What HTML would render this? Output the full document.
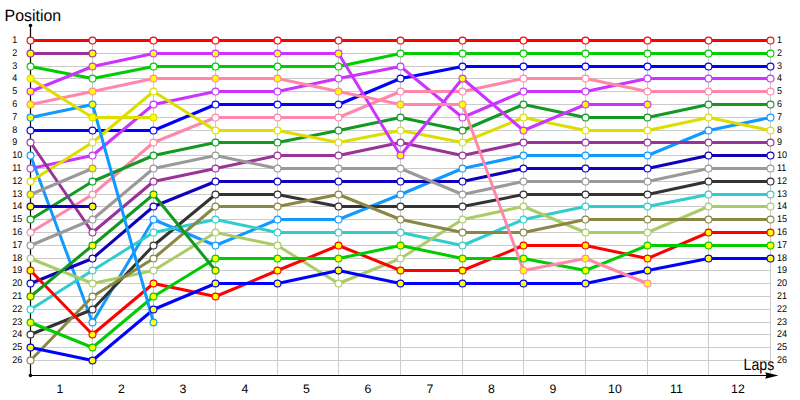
<!DOCTYPE html>
<html><head><meta charset="utf-8"><title>Lap chart</title>
<style>
html,body{margin:0;padding:0;background:#fff;}
body{width:800px;height:400px;overflow:hidden;}
svg{display:block;}
text{font-family:"Liberation Sans",sans-serif;fill:#000;text-rendering:geometricPrecision;}
</style></head><body>
<svg width="800" height="400" viewBox="0 0 800 400">
<rect width="800" height="400" fill="#fff"/>
<g stroke="#cbcbcb" stroke-width="1" shape-rendering="crispEdges">
<line x1="30.5" y1="40.5" x2="770.5" y2="40.5"/>
<line x1="30.5" y1="53.5" x2="770.5" y2="53.5"/>
<line x1="30.5" y1="66.5" x2="770.5" y2="66.5"/>
<line x1="30.5" y1="78.5" x2="770.5" y2="78.5"/>
<line x1="30.5" y1="91.5" x2="770.5" y2="91.5"/>
<line x1="30.5" y1="104.5" x2="770.5" y2="104.5"/>
<line x1="30.5" y1="117.5" x2="770.5" y2="117.5"/>
<line x1="30.5" y1="130.5" x2="770.5" y2="130.5"/>
<line x1="30.5" y1="142.5" x2="770.5" y2="142.5"/>
<line x1="30.5" y1="155.5" x2="770.5" y2="155.5"/>
<line x1="30.5" y1="168.5" x2="770.5" y2="168.5"/>
<line x1="30.5" y1="181.5" x2="770.5" y2="181.5"/>
<line x1="30.5" y1="194.5" x2="770.5" y2="194.5"/>
<line x1="30.5" y1="206.5" x2="770.5" y2="206.5"/>
<line x1="30.5" y1="219.5" x2="770.5" y2="219.5"/>
<line x1="30.5" y1="232.5" x2="770.5" y2="232.5"/>
<line x1="30.5" y1="245.5" x2="770.5" y2="245.5"/>
<line x1="30.5" y1="258.5" x2="770.5" y2="258.5"/>
<line x1="30.5" y1="270.5" x2="770.5" y2="270.5"/>
<line x1="30.5" y1="283.5" x2="770.5" y2="283.5"/>
<line x1="30.5" y1="296.5" x2="770.5" y2="296.5"/>
<line x1="30.5" y1="309.5" x2="770.5" y2="309.5"/>
<line x1="30.5" y1="322.5" x2="770.5" y2="322.5"/>
<line x1="30.5" y1="334.5" x2="770.5" y2="334.5"/>
<line x1="30.5" y1="347.5" x2="770.5" y2="347.5"/>
<line x1="30.5" y1="360.5" x2="770.5" y2="360.5"/>
<line x1="92.5" y1="40.5" x2="92.5" y2="375.5"/>
<line x1="153.5" y1="40.5" x2="153.5" y2="375.5"/>
<line x1="215.5" y1="40.5" x2="215.5" y2="375.5"/>
<line x1="277.5" y1="40.5" x2="277.5" y2="375.5"/>
<line x1="338.5" y1="40.5" x2="338.5" y2="375.5"/>
<line x1="400.5" y1="40.5" x2="400.5" y2="375.5"/>
<line x1="462.5" y1="40.5" x2="462.5" y2="375.5"/>
<line x1="523.5" y1="40.5" x2="523.5" y2="375.5"/>
<line x1="585.5" y1="40.5" x2="585.5" y2="375.5"/>
<line x1="647.5" y1="40.5" x2="647.5" y2="375.5"/>
<line x1="708.5" y1="40.5" x2="708.5" y2="375.5"/>
<line x1="770.5" y1="40.5" x2="770.5" y2="375.5"/>
</g>
<g stroke="#000" stroke-width="1.2" fill="none">
<line x1="30.5" y1="25.5" x2="30.5" y2="375.5"/>
<line x1="30.5" y1="375.5" x2="770" y2="375.5"/>
</g>
<circle cx="30.5" cy="25.5" r="1.8" fill="#000"/>
<circle cx="30.5" cy="375.5" r="1.8" fill="#000"/>
<path d="M778.4 375.5 L765.2 372.3 L766.4 375.5 L765.2 378.7 Z" fill="#000"/>
<text x="4.6" y="20.6" font-size="16.3" textLength="56.5" lengthAdjust="spacingAndGlyphs">Position</text>
<text x="743.6" y="370" font-size="16.3" textLength="30.6" lengthAdjust="spacingAndGlyphs">Laps</text>
<g font-size="9">
<text transform="translate(12.2,43.0) scale(1,1.08)">1</text><text transform="translate(776.9,43.0) scale(1,1.08)">1</text>
<text transform="translate(12.2,56.0) scale(1,1.08)">2</text><text transform="translate(776.9,56.0) scale(1,1.08)">2</text>
<text transform="translate(12.2,69.0) scale(1,1.08)">3</text><text transform="translate(776.9,69.0) scale(1,1.08)">3</text>
<text transform="translate(12.2,81.0) scale(1,1.08)">4</text><text transform="translate(776.9,81.0) scale(1,1.08)">4</text>
<text transform="translate(12.2,94.0) scale(1,1.08)">5</text><text transform="translate(776.9,94.0) scale(1,1.08)">5</text>
<text transform="translate(12.2,107.0) scale(1,1.08)">6</text><text transform="translate(776.9,107.0) scale(1,1.08)">6</text>
<text transform="translate(12.2,120.0) scale(1,1.08)">7</text><text transform="translate(776.9,120.0) scale(1,1.08)">7</text>
<text transform="translate(12.2,133.0) scale(1,1.08)">8</text><text transform="translate(776.9,133.0) scale(1,1.08)">8</text>
<text transform="translate(12.2,145.0) scale(1,1.08)">9</text><text transform="translate(776.9,145.0) scale(1,1.08)">9</text>
<text transform="translate(12.2,158.0) scale(1,1.08)">10</text><text transform="translate(776.9,158.0) scale(1,1.08)">10</text>
<text transform="translate(12.2,171.0) scale(1,1.08)">11</text><text transform="translate(776.9,171.0) scale(1,1.08)">11</text>
<text transform="translate(12.2,184.0) scale(1,1.08)">12</text><text transform="translate(776.9,184.0) scale(1,1.08)">12</text>
<text transform="translate(12.2,197.0) scale(1,1.08)">13</text><text transform="translate(776.9,197.0) scale(1,1.08)">13</text>
<text transform="translate(12.2,209.0) scale(1,1.08)">14</text><text transform="translate(776.9,209.0) scale(1,1.08)">14</text>
<text transform="translate(12.2,222.0) scale(1,1.08)">15</text><text transform="translate(776.9,222.0) scale(1,1.08)">15</text>
<text transform="translate(12.2,235.0) scale(1,1.08)">16</text><text transform="translate(776.9,235.0) scale(1,1.08)">16</text>
<text transform="translate(12.2,248.0) scale(1,1.08)">17</text><text transform="translate(776.9,248.0) scale(1,1.08)">17</text>
<text transform="translate(12.2,261.0) scale(1,1.08)">18</text><text transform="translate(776.9,261.0) scale(1,1.08)">18</text>
<text transform="translate(12.2,273.0) scale(1,1.08)">19</text><text transform="translate(776.9,273.0) scale(1,1.08)">19</text>
<text transform="translate(12.2,286.0) scale(1,1.08)">20</text><text transform="translate(776.9,286.0) scale(1,1.08)">20</text>
<text transform="translate(12.2,299.0) scale(1,1.08)">21</text><text transform="translate(776.9,299.0) scale(1,1.08)">21</text>
<text transform="translate(12.2,312.0) scale(1,1.08)">22</text><text transform="translate(776.9,312.0) scale(1,1.08)">22</text>
<text transform="translate(12.2,325.0) scale(1,1.08)">23</text><text transform="translate(776.9,325.0) scale(1,1.08)">23</text>
<text transform="translate(12.2,337.0) scale(1,1.08)">24</text><text transform="translate(776.9,337.0) scale(1,1.08)">24</text>
<text transform="translate(12.2,350.0) scale(1,1.08)">25</text><text transform="translate(776.9,350.0) scale(1,1.08)">25</text>
<text transform="translate(12.2,363.0) scale(1,1.08)">26</text><text transform="translate(776.9,363.0) scale(1,1.08)">26</text>
</g>
<g font-size="12.3" text-anchor="middle">
<text x="59.9" y="393">1</text>
<text x="121.4" y="393">2</text>
<text x="182.9" y="393">3</text>
<text x="244.9" y="393">4</text>
<text x="306.4" y="393">5</text>
<text x="367.9" y="393">6</text>
<text x="429.9" y="393">7</text>
<text x="491.4" y="393">8</text>
<text x="552.9" y="393">9</text>
<text x="614.9" y="393">10</text>
<text x="676.4" y="393">11</text>
<text x="737.9" y="393">12</text>
</g>
<g fill="none" stroke-width="3" stroke-linejoin="round" stroke-linecap="round">
<polyline stroke="#ff0000" points="30.5,40.5 92.5,40.5 153.5,40.5 215.5,40.5 277.5,40.5 338.5,40.5 400.5,40.5 462.5,40.5 523.5,40.5 585.5,40.5 647.5,40.5 708.5,40.5 770.5,40.5"/>
<polyline stroke="#00cc00" points="30.5,66.5 92.5,78.5 153.5,66.5 215.5,66.5 277.5,66.5 338.5,66.5 400.5,53.5 462.5,53.5 523.5,53.5 585.5,53.5 647.5,53.5 708.5,53.5 770.5,53.5"/>
<polyline stroke="#0000ff" points="30.5,130.5 92.5,130.5 153.5,130.5 215.5,104.5 277.5,104.5 338.5,104.5 400.5,78.5 462.5,66.5 523.5,66.5 585.5,66.5 647.5,66.5 708.5,66.5 770.5,66.5"/>
<polyline stroke="#cc33ff" points="30.5,168.5 92.5,155.5 153.5,104.5 215.5,91.5 277.5,91.5 338.5,78.5 400.5,66.5 462.5,117.5 523.5,91.5 585.5,91.5 647.5,78.5 708.5,78.5 770.5,78.5"/>
<polyline stroke="#ff88aa" points="30.5,232.5 92.5,194.5 153.5,142.5 215.5,117.5 277.5,117.5 338.5,117.5 400.5,91.5 462.5,91.5 523.5,78.5 585.5,78.5 647.5,91.5 708.5,91.5 770.5,91.5"/>
<polyline stroke="#119922" points="30.5,219.5 92.5,181.5 153.5,155.5 215.5,142.5 277.5,142.5 338.5,130.5 400.5,117.5 462.5,130.5 523.5,104.5 585.5,117.5 647.5,117.5 708.5,104.5 770.5,104.5"/>
<polyline stroke="#1199ff" points="30.5,155.5 92.5,322.5 153.5,219.5 215.5,245.5 277.5,219.5 338.5,219.5 400.5,194.5 462.5,168.5 523.5,155.5 585.5,155.5 647.5,155.5 708.5,130.5 770.5,117.5"/>
<polyline stroke="#dddd00" points="30.5,181.5 92.5,142.5 153.5,91.5 215.5,130.5 277.5,130.5 338.5,142.5 400.5,130.5 462.5,142.5 523.5,117.5 585.5,130.5 647.5,130.5 708.5,117.5 770.5,130.5"/>
<polyline stroke="#993399" points="30.5,142.5 92.5,232.5 153.5,181.5 215.5,168.5 277.5,155.5 338.5,155.5 400.5,142.5 462.5,155.5 523.5,142.5 585.5,142.5 647.5,142.5 708.5,142.5 770.5,142.5"/>
<polyline stroke="#1100bb" points="30.5,283.5 92.5,258.5 153.5,206.5 215.5,181.5 277.5,181.5 338.5,181.5 400.5,181.5 462.5,181.5 523.5,168.5 585.5,168.5 647.5,168.5 708.5,155.5 770.5,155.5"/>
<polyline stroke="#999999" points="30.5,245.5 92.5,219.5 153.5,168.5 215.5,155.5 277.5,168.5 338.5,168.5 400.5,168.5 462.5,194.5 523.5,181.5 585.5,181.5 647.5,181.5 708.5,168.5 770.5,168.5"/>
<polyline stroke="#333333" points="30.5,334.5 92.5,309.5 153.5,245.5 215.5,194.5 277.5,194.5 338.5,206.5 400.5,206.5 462.5,206.5 523.5,194.5 585.5,194.5 647.5,194.5 708.5,181.5 770.5,181.5"/>
<polyline stroke="#33cccc" points="30.5,309.5 92.5,270.5 153.5,232.5 215.5,219.5 277.5,232.5 338.5,232.5 400.5,232.5 462.5,245.5 523.5,219.5 585.5,206.5 647.5,206.5 708.5,194.5 770.5,194.5"/>
<polyline stroke="#aacc66" points="30.5,258.5 92.5,283.5 153.5,270.5 215.5,232.5 277.5,245.5 338.5,283.5 400.5,258.5 462.5,219.5 523.5,206.5 585.5,232.5 647.5,232.5 708.5,206.5 770.5,206.5"/>
<polyline stroke="#888844" points="30.5,360.5 92.5,296.5 153.5,258.5 215.5,206.5 277.5,206.5 338.5,194.5 400.5,219.5 462.5,232.5 523.5,232.5 585.5,219.5 647.5,219.5 708.5,219.5 770.5,219.5"/>
<polyline stroke="#ff0000" points="30.5,270.5 92.5,334.5 153.5,283.5 215.5,296.5 277.5,270.5 338.5,245.5 400.5,270.5 462.5,270.5 523.5,245.5 585.5,245.5 647.5,258.5 708.5,232.5 770.5,232.5"/>
<polyline stroke="#00cc00" points="30.5,322.5 92.5,347.5 153.5,296.5 215.5,258.5 277.5,258.5 338.5,258.5 400.5,245.5 462.5,258.5 523.5,258.5 585.5,270.5 647.5,245.5 708.5,245.5 770.5,245.5"/>
<polyline stroke="#0000ff" points="30.5,347.5 92.5,360.5 153.5,309.5 215.5,283.5 277.5,283.5 338.5,270.5 400.5,283.5 462.5,283.5 523.5,283.5 585.5,283.5 647.5,270.5 708.5,258.5 770.5,258.5"/>
<polyline stroke="#cc33ff" points="30.5,91.5 92.5,66.5 153.5,53.5 215.5,53.5 277.5,53.5 338.5,53.5 400.5,155.5 462.5,78.5 523.5,130.5 585.5,104.5 647.5,104.5"/>
<polyline stroke="#ff88aa" points="30.5,104.5 92.5,91.5 153.5,78.5 215.5,78.5 277.5,78.5 338.5,91.5 400.5,104.5 462.5,104.5 523.5,270.5 585.5,258.5 647.5,283.5"/>
<polyline stroke="#119922" points="30.5,296.5 92.5,245.5 153.5,194.5 215.5,270.5"/>
<polyline stroke="#1199ff" points="30.5,117.5 92.5,104.5 153.5,322.5"/>
<polyline stroke="#dddd00" points="30.5,78.5 92.5,117.5 153.5,117.5"/>
<polyline stroke="#993399" points="30.5,53.5 92.5,53.5"/>
<polyline stroke="#1100bb" points="30.5,206.5 92.5,206.5"/>
<polyline stroke="#999999" points="30.5,194.5 92.5,168.5"/>
</g>
<g stroke-width="1.15">
<g stroke="#ff0000" fill="#ffffff"><circle cx="30.5" cy="40.5" r="3.45"/><circle cx="92.5" cy="40.5" r="3.45"/><circle cx="153.5" cy="40.5" r="3.45"/><circle cx="215.5" cy="40.5" r="3.45"/><circle cx="277.5" cy="40.5" r="3.45"/><circle cx="338.5" cy="40.5" r="3.45"/><circle cx="400.5" cy="40.5" r="3.45"/><circle cx="462.5" cy="40.5" r="3.45"/><circle cx="523.5" cy="40.5" r="3.45"/><circle cx="585.5" cy="40.5" r="3.45"/><circle cx="647.5" cy="40.5" r="3.45"/><circle cx="708.5" cy="40.5" r="3.45"/><circle cx="770.5" cy="40.5" r="3.45"/></g>
<g stroke="#00cc00" fill="#ffffff"><circle cx="30.5" cy="66.5" r="3.45"/><circle cx="92.5" cy="78.5" r="3.45"/><circle cx="153.5" cy="66.5" r="3.45"/><circle cx="215.5" cy="66.5" r="3.45"/><circle cx="277.5" cy="66.5" r="3.45"/><circle cx="338.5" cy="66.5" r="3.45"/><circle cx="400.5" cy="53.5" r="3.45"/><circle cx="462.5" cy="53.5" r="3.45"/><circle cx="523.5" cy="53.5" r="3.45"/><circle cx="585.5" cy="53.5" r="3.45"/><circle cx="647.5" cy="53.5" r="3.45"/><circle cx="708.5" cy="53.5" r="3.45"/><circle cx="770.5" cy="53.5" r="3.45"/></g>
<g stroke="#0000ff" fill="#ffffff"><circle cx="30.5" cy="130.5" r="3.45"/><circle cx="92.5" cy="130.5" r="3.45"/><circle cx="153.5" cy="130.5" r="3.45"/><circle cx="215.5" cy="104.5" r="3.45"/><circle cx="277.5" cy="104.5" r="3.45"/><circle cx="338.5" cy="104.5" r="3.45"/><circle cx="400.5" cy="78.5" r="3.45"/><circle cx="462.5" cy="66.5" r="3.45"/><circle cx="523.5" cy="66.5" r="3.45"/><circle cx="585.5" cy="66.5" r="3.45"/><circle cx="647.5" cy="66.5" r="3.45"/><circle cx="708.5" cy="66.5" r="3.45"/><circle cx="770.5" cy="66.5" r="3.45"/></g>
<g stroke="#cc33ff" fill="#ffffff"><circle cx="30.5" cy="168.5" r="3.45"/><circle cx="92.5" cy="155.5" r="3.45"/><circle cx="153.5" cy="104.5" r="3.45"/><circle cx="215.5" cy="91.5" r="3.45"/><circle cx="277.5" cy="91.5" r="3.45"/><circle cx="338.5" cy="78.5" r="3.45"/><circle cx="400.5" cy="66.5" r="3.45"/><circle cx="462.5" cy="117.5" r="3.45"/><circle cx="523.5" cy="91.5" r="3.45"/><circle cx="585.5" cy="91.5" r="3.45"/><circle cx="647.5" cy="78.5" r="3.45"/><circle cx="708.5" cy="78.5" r="3.45"/><circle cx="770.5" cy="78.5" r="3.45"/></g>
<g stroke="#ff88aa" fill="#ffffff"><circle cx="30.5" cy="232.5" r="3.45"/><circle cx="92.5" cy="194.5" r="3.45"/><circle cx="153.5" cy="142.5" r="3.45"/><circle cx="215.5" cy="117.5" r="3.45"/><circle cx="277.5" cy="117.5" r="3.45"/><circle cx="338.5" cy="117.5" r="3.45"/><circle cx="400.5" cy="91.5" r="3.45"/><circle cx="462.5" cy="91.5" r="3.45"/><circle cx="523.5" cy="78.5" r="3.45"/><circle cx="585.5" cy="78.5" r="3.45"/><circle cx="647.5" cy="91.5" r="3.45"/><circle cx="708.5" cy="91.5" r="3.45"/><circle cx="770.5" cy="91.5" r="3.45"/></g>
<g stroke="#119922" fill="#ffffff"><circle cx="30.5" cy="219.5" r="3.45"/><circle cx="92.5" cy="181.5" r="3.45"/><circle cx="153.5" cy="155.5" r="3.45"/><circle cx="215.5" cy="142.5" r="3.45"/><circle cx="277.5" cy="142.5" r="3.45"/><circle cx="338.5" cy="130.5" r="3.45"/><circle cx="400.5" cy="117.5" r="3.45"/><circle cx="462.5" cy="130.5" r="3.45"/><circle cx="523.5" cy="104.5" r="3.45"/><circle cx="585.5" cy="117.5" r="3.45"/><circle cx="647.5" cy="117.5" r="3.45"/><circle cx="708.5" cy="104.5" r="3.45"/><circle cx="770.5" cy="104.5" r="3.45"/></g>
<g stroke="#1199ff" fill="#ffffff"><circle cx="30.5" cy="155.5" r="3.45"/><circle cx="92.5" cy="322.5" r="3.45"/><circle cx="153.5" cy="219.5" r="3.45"/><circle cx="215.5" cy="245.5" r="3.45"/><circle cx="277.5" cy="219.5" r="3.45"/><circle cx="338.5" cy="219.5" r="3.45"/><circle cx="400.5" cy="194.5" r="3.45"/><circle cx="462.5" cy="168.5" r="3.45"/><circle cx="523.5" cy="155.5" r="3.45"/><circle cx="585.5" cy="155.5" r="3.45"/><circle cx="647.5" cy="155.5" r="3.45"/><circle cx="708.5" cy="130.5" r="3.45"/><circle cx="770.5" cy="117.5" r="3.45"/></g>
<g stroke="#dddd00" fill="#ffffff"><circle cx="30.5" cy="181.5" r="3.45"/><circle cx="92.5" cy="142.5" r="3.45"/><circle cx="153.5" cy="91.5" r="3.45"/><circle cx="215.5" cy="130.5" r="3.45"/><circle cx="277.5" cy="130.5" r="3.45"/><circle cx="338.5" cy="142.5" r="3.45"/><circle cx="400.5" cy="130.5" r="3.45"/><circle cx="462.5" cy="142.5" r="3.45"/><circle cx="523.5" cy="117.5" r="3.45"/><circle cx="585.5" cy="130.5" r="3.45"/><circle cx="647.5" cy="130.5" r="3.45"/><circle cx="708.5" cy="117.5" r="3.45"/><circle cx="770.5" cy="130.5" r="3.45"/></g>
<g stroke="#993399" fill="#ffffff"><circle cx="30.5" cy="142.5" r="3.45"/><circle cx="92.5" cy="232.5" r="3.45"/><circle cx="153.5" cy="181.5" r="3.45"/><circle cx="215.5" cy="168.5" r="3.45"/><circle cx="277.5" cy="155.5" r="3.45"/><circle cx="338.5" cy="155.5" r="3.45"/><circle cx="400.5" cy="142.5" r="3.45"/><circle cx="462.5" cy="155.5" r="3.45"/><circle cx="523.5" cy="142.5" r="3.45"/><circle cx="585.5" cy="142.5" r="3.45"/><circle cx="647.5" cy="142.5" r="3.45"/><circle cx="708.5" cy="142.5" r="3.45"/><circle cx="770.5" cy="142.5" r="3.45"/></g>
<g stroke="#1100bb" fill="#ffffff"><circle cx="30.5" cy="283.5" r="3.45"/><circle cx="92.5" cy="258.5" r="3.45"/><circle cx="153.5" cy="206.5" r="3.45"/><circle cx="215.5" cy="181.5" r="3.45"/><circle cx="277.5" cy="181.5" r="3.45"/><circle cx="338.5" cy="181.5" r="3.45"/><circle cx="400.5" cy="181.5" r="3.45"/><circle cx="462.5" cy="181.5" r="3.45"/><circle cx="523.5" cy="168.5" r="3.45"/><circle cx="585.5" cy="168.5" r="3.45"/><circle cx="647.5" cy="168.5" r="3.45"/><circle cx="708.5" cy="155.5" r="3.45"/><circle cx="770.5" cy="155.5" r="3.45"/></g>
<g stroke="#999999" fill="#ffffff"><circle cx="30.5" cy="245.5" r="3.45"/><circle cx="92.5" cy="219.5" r="3.45"/><circle cx="153.5" cy="168.5" r="3.45"/><circle cx="215.5" cy="155.5" r="3.45"/><circle cx="277.5" cy="168.5" r="3.45"/><circle cx="338.5" cy="168.5" r="3.45"/><circle cx="400.5" cy="168.5" r="3.45"/><circle cx="462.5" cy="194.5" r="3.45"/><circle cx="523.5" cy="181.5" r="3.45"/><circle cx="585.5" cy="181.5" r="3.45"/><circle cx="647.5" cy="181.5" r="3.45"/><circle cx="708.5" cy="168.5" r="3.45"/><circle cx="770.5" cy="168.5" r="3.45"/></g>
<g stroke="#333333" fill="#ffffff"><circle cx="30.5" cy="334.5" r="3.45"/><circle cx="92.5" cy="309.5" r="3.45"/><circle cx="153.5" cy="245.5" r="3.45"/><circle cx="215.5" cy="194.5" r="3.45"/><circle cx="277.5" cy="194.5" r="3.45"/><circle cx="338.5" cy="206.5" r="3.45"/><circle cx="400.5" cy="206.5" r="3.45"/><circle cx="462.5" cy="206.5" r="3.45"/><circle cx="523.5" cy="194.5" r="3.45"/><circle cx="585.5" cy="194.5" r="3.45"/><circle cx="647.5" cy="194.5" r="3.45"/><circle cx="708.5" cy="181.5" r="3.45"/><circle cx="770.5" cy="181.5" r="3.45"/></g>
<g stroke="#33cccc" fill="#ffffff"><circle cx="30.5" cy="309.5" r="3.45"/><circle cx="92.5" cy="270.5" r="3.45"/><circle cx="153.5" cy="232.5" r="3.45"/><circle cx="215.5" cy="219.5" r="3.45"/><circle cx="277.5" cy="232.5" r="3.45"/><circle cx="338.5" cy="232.5" r="3.45"/><circle cx="400.5" cy="232.5" r="3.45"/><circle cx="462.5" cy="245.5" r="3.45"/><circle cx="523.5" cy="219.5" r="3.45"/><circle cx="585.5" cy="206.5" r="3.45"/><circle cx="647.5" cy="206.5" r="3.45"/><circle cx="708.5" cy="194.5" r="3.45"/><circle cx="770.5" cy="194.5" r="3.45"/></g>
<g stroke="#aacc66" fill="#ffffff"><circle cx="30.5" cy="258.5" r="3.45"/><circle cx="92.5" cy="283.5" r="3.45"/><circle cx="153.5" cy="270.5" r="3.45"/><circle cx="215.5" cy="232.5" r="3.45"/><circle cx="277.5" cy="245.5" r="3.45"/><circle cx="338.5" cy="283.5" r="3.45"/><circle cx="400.5" cy="258.5" r="3.45"/><circle cx="462.5" cy="219.5" r="3.45"/><circle cx="523.5" cy="206.5" r="3.45"/><circle cx="585.5" cy="232.5" r="3.45"/><circle cx="647.5" cy="232.5" r="3.45"/><circle cx="708.5" cy="206.5" r="3.45"/><circle cx="770.5" cy="206.5" r="3.45"/></g>
<g stroke="#888844" fill="#ffffff"><circle cx="30.5" cy="360.5" r="3.45"/><circle cx="92.5" cy="296.5" r="3.45"/><circle cx="153.5" cy="258.5" r="3.45"/><circle cx="215.5" cy="206.5" r="3.45"/><circle cx="277.5" cy="206.5" r="3.45"/><circle cx="338.5" cy="194.5" r="3.45"/><circle cx="400.5" cy="219.5" r="3.45"/><circle cx="462.5" cy="232.5" r="3.45"/><circle cx="523.5" cy="232.5" r="3.45"/><circle cx="585.5" cy="219.5" r="3.45"/><circle cx="647.5" cy="219.5" r="3.45"/><circle cx="708.5" cy="219.5" r="3.45"/><circle cx="770.5" cy="219.5" r="3.45"/></g>
<g stroke="#ff0000" fill="#ffff00"><circle cx="30.5" cy="270.5" r="3.45"/><circle cx="92.5" cy="334.5" r="3.45"/><circle cx="153.5" cy="283.5" r="3.45"/><circle cx="215.5" cy="296.5" r="3.45"/><circle cx="277.5" cy="270.5" r="3.45"/><circle cx="338.5" cy="245.5" r="3.45"/><circle cx="400.5" cy="270.5" r="3.45"/><circle cx="462.5" cy="270.5" r="3.45"/><circle cx="523.5" cy="245.5" r="3.45"/><circle cx="585.5" cy="245.5" r="3.45"/><circle cx="647.5" cy="258.5" r="3.45"/><circle cx="708.5" cy="232.5" r="3.45"/><circle cx="770.5" cy="232.5" r="3.45"/></g>
<g stroke="#00cc00" fill="#ffff00"><circle cx="30.5" cy="322.5" r="3.45"/><circle cx="92.5" cy="347.5" r="3.45"/><circle cx="153.5" cy="296.5" r="3.45"/><circle cx="215.5" cy="258.5" r="3.45"/><circle cx="277.5" cy="258.5" r="3.45"/><circle cx="338.5" cy="258.5" r="3.45"/><circle cx="400.5" cy="245.5" r="3.45"/><circle cx="462.5" cy="258.5" r="3.45"/><circle cx="523.5" cy="258.5" r="3.45"/><circle cx="585.5" cy="270.5" r="3.45"/><circle cx="647.5" cy="245.5" r="3.45"/><circle cx="708.5" cy="245.5" r="3.45"/><circle cx="770.5" cy="245.5" r="3.45"/></g>
<g stroke="#0000ff" fill="#ffff00"><circle cx="30.5" cy="347.5" r="3.45"/><circle cx="92.5" cy="360.5" r="3.45"/><circle cx="153.5" cy="309.5" r="3.45"/><circle cx="215.5" cy="283.5" r="3.45"/><circle cx="277.5" cy="283.5" r="3.45"/><circle cx="338.5" cy="270.5" r="3.45"/><circle cx="400.5" cy="283.5" r="3.45"/><circle cx="462.5" cy="283.5" r="3.45"/><circle cx="523.5" cy="283.5" r="3.45"/><circle cx="585.5" cy="283.5" r="3.45"/><circle cx="647.5" cy="270.5" r="3.45"/><circle cx="708.5" cy="258.5" r="3.45"/><circle cx="770.5" cy="258.5" r="3.45"/></g>
<g stroke="#cc33ff" fill="#ffff00"><circle cx="30.5" cy="91.5" r="3.45"/><circle cx="92.5" cy="66.5" r="3.45"/><circle cx="153.5" cy="53.5" r="3.45"/><circle cx="215.5" cy="53.5" r="3.45"/><circle cx="277.5" cy="53.5" r="3.45"/><circle cx="338.5" cy="53.5" r="3.45"/><circle cx="400.5" cy="155.5" r="3.45"/><circle cx="462.5" cy="78.5" r="3.45"/><circle cx="523.5" cy="130.5" r="3.45"/><circle cx="585.5" cy="104.5" r="3.45"/><circle cx="647.5" cy="104.5" r="3.45"/></g>
<g stroke="#ff88aa" fill="#ffff00"><circle cx="30.5" cy="104.5" r="3.45"/><circle cx="92.5" cy="91.5" r="3.45"/><circle cx="153.5" cy="78.5" r="3.45"/><circle cx="215.5" cy="78.5" r="3.45"/><circle cx="277.5" cy="78.5" r="3.45"/><circle cx="338.5" cy="91.5" r="3.45"/><circle cx="400.5" cy="104.5" r="3.45"/><circle cx="462.5" cy="104.5" r="3.45"/><circle cx="523.5" cy="270.5" r="3.45"/><circle cx="585.5" cy="258.5" r="3.45"/><circle cx="647.5" cy="283.5" r="3.45"/></g>
<g stroke="#119922" fill="#ffff00"><circle cx="30.5" cy="296.5" r="3.45"/><circle cx="92.5" cy="245.5" r="3.45"/><circle cx="153.5" cy="194.5" r="3.45"/><circle cx="215.5" cy="270.5" r="3.45"/></g>
<g stroke="#1199ff" fill="#ffff00"><circle cx="30.5" cy="117.5" r="3.45"/><circle cx="92.5" cy="104.5" r="3.45"/><circle cx="153.5" cy="322.5" r="3.45"/></g>
<g stroke="#dddd00" fill="#ffff00"><circle cx="30.5" cy="78.5" r="3.45"/><circle cx="92.5" cy="117.5" r="3.45"/><circle cx="153.5" cy="117.5" r="3.45"/></g>
<g stroke="#993399" fill="#ffff00"><circle cx="30.5" cy="53.5" r="3.45"/><circle cx="92.5" cy="53.5" r="3.45"/></g>
<g stroke="#1100bb" fill="#ffff00"><circle cx="30.5" cy="206.5" r="3.45"/><circle cx="92.5" cy="206.5" r="3.45"/></g>
<g stroke="#999999" fill="#ffff00"><circle cx="30.5" cy="194.5" r="3.45"/><circle cx="92.5" cy="168.5" r="3.45"/></g>
</g>
</svg>
</body></html>
